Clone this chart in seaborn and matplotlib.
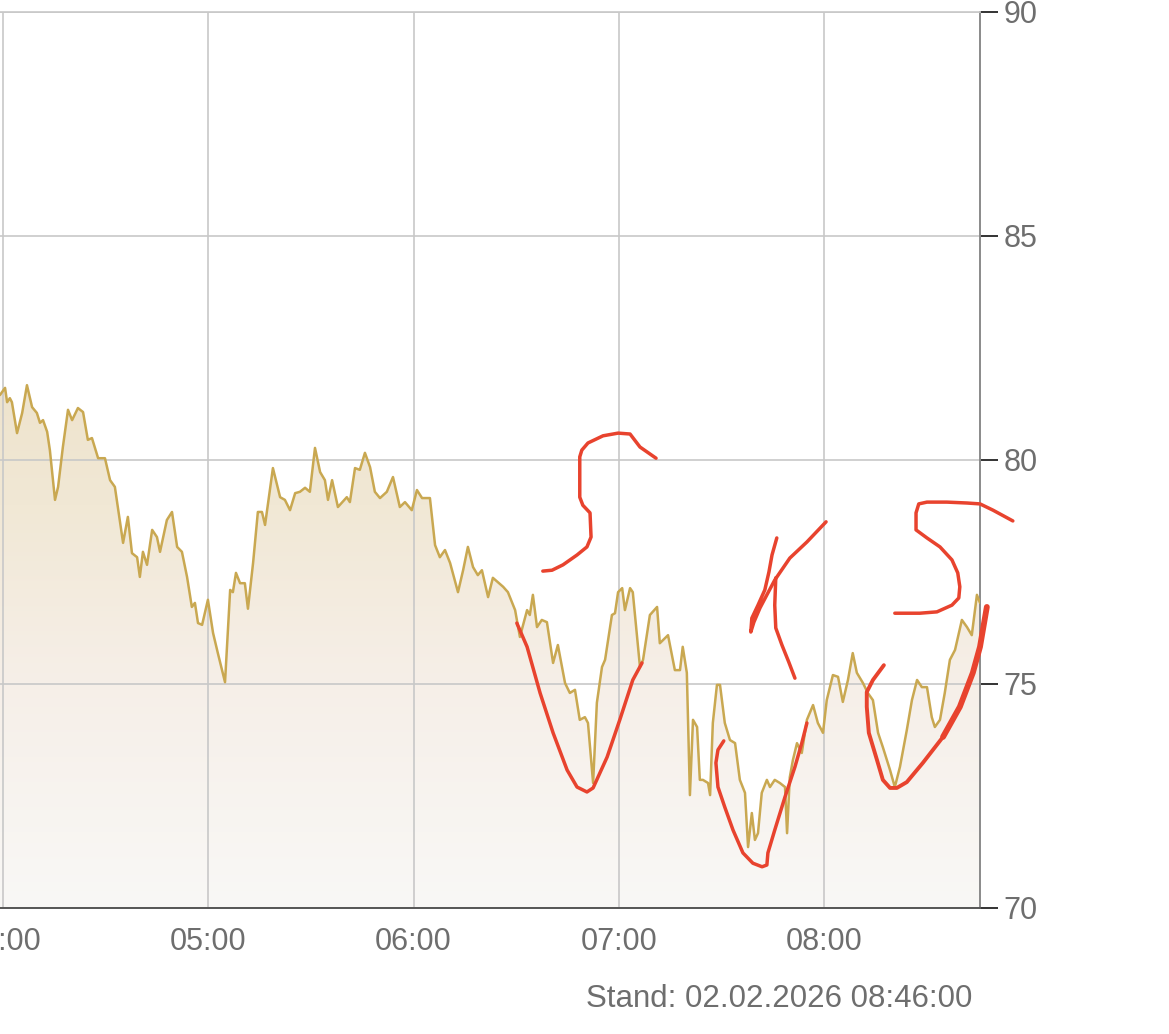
import numpy as np
import pandas as pd
import matplotlib
matplotlib.use("Agg")
import matplotlib.pyplot as plt
import seaborn as sns
from matplotlib.colors import LinearSegmentedColormap

# ---------------- data ----------------
# minutes after 04:00 and price
minutes = [
    -0.9, 0.6, 1.2, 2.0, 2.6, 4.1, 5.6, 7.0, 8.5, 9.9, 10.8, 11.7, 12.9, 13.7,
    15.2, 16.1, 17.5, 19.0, 20.2, 21.9, 23.4, 24.8, 26.0, 27.8, 29.8, 31.3,
    32.7, 35.1, 36.5, 37.7, 39.2, 40.0, 40.9, 42.1, 43.6, 45.0, 45.9, 47.9,
    49.4, 50.9, 52.3, 53.8, 55.2, 56.1, 57.0, 58.2, 59.9, 61.4, 62.8, 64.9,
    66.4, 67.2, 68.1, 69.3, 70.7, 71.6,
    73.1, 74.5, 75.7, 76.6, 78.9, 81.0, 82.4, 83.9, 85.4, 86.8, 88.3, 89.7,
    91.2, 92.7, 94.1, 95.0, 96.2, 97.9, 100.5, 101.4, 102.9, 104.3, 105.8,
    107.3, 108.7, 110.2, 112.2, 114.0, 116.0, 117.5, 119.5, 121.0, 122.5,
    124.8, 126.3, 127.7, 129.2, 130.7, 133.0, 134.5, 135.9, 137.4, 138.8,
    140.0, 141.8,
    143.2, 146.2, 147.6, 149.7, 151.1, 153.2, 154.0, 154.9, 156.1, 157.5,
    159.0, 160.8, 162.2, 164.3, 165.7, 167.2, 168.6, 170.1, 171.0, 172.5,
    173.6, 175.1, 176.0, 178.0, 178.9, 179.8, 181.0, 181.8, 183.3, 184.1,
    186.2, 187.1, 189.1, 191.2, 192.0, 194.4,
    196.4, 197.9, 198.7, 199.9, 200.8, 201.7, 202.9, 203.7, 204.6, 206.1,
    206.7, 207.5, 208.7, 209.6, 211.0, 212.5, 214.0, 215.4, 216.9, 217.8,
    218.9, 219.8, 220.7, 221.8, 223.3, 224.2, 225.6, 227.1, 228.6, 229.2,
    230.0, 230.9, 232.1, 233.5, 235.0, 236.8, 238.2, 239.7, 240.8, 242.6,
    244.1, 245.5, 247.0, 248.4, 249.6, 251.4, 252.8, 254.3, 255.8, 257.2,
    259.3, 260.7, 262.2, 264.2, 265.7, 267.2, 268.6, 270.1, 271.5, 272.4,
    273.9, 275.3, 276.8, 278.3, 280.3, 281.8, 283.2, 284.7, 285.6,
]
price = [
    81.45, 81.61, 81.29, 81.38, 81.29, 80.60, 81.05, 81.67, 81.18, 81.05, 80.83, 80.89, 80.63, 80.22,
    79.11, 79.40, 80.29, 81.12, 80.89, 81.16, 81.07, 80.45, 80.49, 80.04, 80.04, 79.55,
    79.40, 78.15, 78.73, 77.92, 77.83, 77.39, 77.95, 77.66, 78.44, 78.28, 77.95, 78.66,
    78.84, 78.06, 77.95, 77.39, 76.72, 76.81, 76.36, 76.32, 76.88, 76.14, 75.69, 75.04,
    77.10, 77.05, 77.48, 77.25, 77.25, 76.68,
    77.70, 78.84, 78.84, 78.55, 79.82, 79.17, 79.11, 78.88, 79.26, 79.29, 79.38, 79.29,
    80.27, 79.73, 79.55, 79.11, 79.55, 78.95, 79.17, 79.06, 79.82, 79.78, 80.16,
    79.84, 79.29, 79.15, 79.29, 79.62, 78.95, 79.06, 78.88, 79.33, 79.15,
    79.15, 78.10, 77.83, 77.99, 77.70, 77.05, 77.54, 78.06, 77.61, 77.43,
    77.54, 76.94,
    77.37, 77.17, 77.05, 76.65, 76.05, 76.65, 76.54, 76.99, 76.27, 76.43,
    76.38, 75.47, 75.87, 75.02, 74.80, 74.87, 74.20, 74.26, 74.13, 72.79,
    74.58, 75.38, 75.54, 76.54, 76.58, 77.05, 77.14, 76.65, 77.14, 77.05,
    75.38, 75.54, 76.54, 76.72, 75.91, 76.09,
    75.31, 75.31, 75.83, 75.25, 72.52, 74.20, 74.04, 72.86, 72.86, 72.79,
    72.52, 74.13, 74.98, 74.98, 74.13, 73.75, 73.68, 72.86, 72.57, 71.36,
    72.12, 71.52, 71.67, 72.57, 72.86, 72.70, 72.86, 72.79, 72.70, 71.67,
    72.92, 73.30, 73.68, 73.46, 74.20, 74.53, 74.13, 73.91, 74.64, 75.20,
    75.16, 74.60, 75.09, 75.69, 75.25, 75.02, 74.80, 74.64, 73.91, 73.59,
    73.08, 72.70, 73.15, 73.97, 74.64, 75.09, 74.93, 74.93, 74.26, 74.04,
    74.20, 74.80, 75.54, 75.76, 76.43, 76.27, 76.09, 76.99, 76.81,
]

hour_ticks = [0, 60, 120, 180, 240]
hour_labels = ["04:00", "05:00", "06:00", "07:00", "08:00"]
y_ticks = [70, 75, 80, 85, 90]
stamp_text = "Stand: 02.02.2026 08:46:00"

# hand-drawn red annotation strokes (minutes after 04:00, price level)
stroke_a_min = [190.9, 186.2, 183.3, 179.8, 175.4, 171.0, 169.2, 168.6, 168.6, 169.5, 171.6, 171.9, 170.7, 167.8, 163.7, 160.5, 157.8]
stroke_a_val = [80.04, 80.29, 80.58, 80.60, 80.54, 80.38, 80.22, 80.07, 79.17, 78.99, 78.82, 78.28, 78.06, 77.88, 77.66, 77.54, 77.52]
stroke_b_min = [150.2, 153.2, 157.0, 160.8, 164.9, 167.8, 170.7, 172.5, 176.6, 180.3, 184.1, 186.8]
stroke_b_val = [76.36, 75.83, 74.80, 73.91, 73.08, 72.70, 72.59, 72.68, 73.37, 74.20, 75.09, 75.47]
stroke_c_min = [226.2, 224.8, 223.9, 222.7, 220.7, 218.9, 218.6, 219.5, 221.3, 223.3, 225.6, 230.0, 235.0, 240.6]
stroke_c_val = [78.26, 77.88, 77.50, 77.10, 76.76, 76.47, 76.16, 76.38, 76.70, 76.99, 77.32, 77.81, 78.17, 78.62]
stroke_d_min = [225.9, 225.6, 225.9, 227.7, 229.7, 231.5]
stroke_d_val = [77.37, 76.76, 76.25, 75.87, 75.49, 75.13]
stroke_e_min = [210.7, 209.0, 208.4, 209.0, 211.0, 213.4, 216.3, 219.2, 221.9, 223.3, 223.6, 225.6, 228.6, 231.5, 233.5, 235.0]
stroke_e_val = [73.73, 73.53, 73.24, 72.70, 72.25, 71.74, 71.23, 71.00, 70.92, 70.96, 71.23, 71.74, 72.48, 73.15, 73.68, 74.13]
stroke_f_min = [257.5, 254.3, 252.5, 252.5, 253.1, 255.5, 257.2, 259.3, 261.3, 264.2, 268.9, 274.8, 279.7, 283.5, 285.6, 287.6]
stroke_f_val = [75.42, 75.09, 74.82, 74.49, 73.91, 73.30, 72.86, 72.68, 72.68, 72.81, 73.24, 73.82, 74.49, 75.25, 75.83, 76.72]
stroke_g_min = [295.2, 289.4, 285.6, 281.8, 275.9, 270.1, 267.7, 266.9, 266.9, 270.1, 273.9, 277.4, 279.1, 279.7, 279.4, 277.4, 273.0, 268.0, 260.7]
stroke_g_val = [78.64, 78.88, 79.02, 79.04, 79.06, 79.06, 79.02, 78.82, 78.44, 78.26, 78.06, 77.77, 77.48, 77.17, 76.92, 76.76, 76.61, 76.58, 76.58]

# ---------------- style ----------------
sns.set_style("white")
plt.rcParams["font.family"] = ["Liberation Sans", "DejaVu Sans"]

LINE = "#c9a851"
GRID = "#c8c8c8"
RED = "#e8432e"
TXT = "#6e6e6e"

W, H = 1169, 1034
fig = plt.figure(figsize=(W / 100, H / 100), dpi=100)
fig.patch.set_facecolor("white")
ax = fig.add_axes([0, (H - 908) / H, 980 / W, 896 / H])
ax.set_facecolor("white")

df = pd.DataFrame({"t": minutes, "p": price})

# gradient area
poly = ax.fill_between(df["t"], df["p"], 70, color="none", lw=0)
cmap = LinearSegmentedColormap.from_list(
    "area", [(0.0, "#f9f8f6"), (0.42, "#f6efe8"), (0.75, "#f1e8d5"), (1.0, "#eee3cc")]
)
grad = np.linspace(0, 1, 256).reshape(-1, 1)
im = ax.imshow(grad, extent=[df["t"].min(), df["t"].max(), 70, 82], origin="lower",
               aspect="auto", cmap=cmap, zorder=0.2, interpolation="bicubic")
im.set_clip_path(poly.get_paths()[0], transform=ax.transData)

sns.lineplot(data=df, x="t", y="p", ax=ax, color=LINE, lw=1.8, zorder=4, sort=False)

# annotations
strokes = [
    (stroke_a_min, stroke_a_val, 2.5),
    (stroke_b_min, stroke_b_val, 2.5),
    (stroke_c_min, stroke_c_val, 2.5),
    (stroke_d_min, stroke_d_val, 2.5),
    (stroke_e_min, stroke_e_val, 2.5),
    (stroke_f_min, stroke_f_val, 2.8),
    (stroke_g_min, stroke_g_val, 2.5),
]
for xs, ys, lw in strokes:
    ax.plot(xs, ys, color=RED, lw=lw, solid_capstyle="round", solid_joinstyle="round",
            clip_on=False, zorder=6)
ax.plot(stroke_f_min[-5:], stroke_f_val[-5:], color=RED, lw=4.2, solid_capstyle="round",
        solid_joinstyle="round", clip_on=False, zorder=6)

# axes
ax.set_xlim(-0.88, 285.6)
ax.set_ylim(70, 90)
ax.set_xticks(hour_ticks)
ax.set_xticklabels(hour_labels)
ax.set_yticks(y_ticks)
ax.set_yticklabels([str(v) for v in y_ticks])
ax.set_xlabel("")
ax.set_ylabel("")
ax.yaxis.tick_right()
ax.set_axisbelow(True)
ax.grid(True, color=GRID, lw=1.2)

ax.tick_params(axis="y", which="both", direction="out", length=13, width=1.4,
               color="#333333", pad=4, labelsize=22, labelcolor=TXT, left=False, right=True)
ax.tick_params(axis="x", which="both", direction="out", length=10, width=1.4,
               color="#333333", pad=4, labelsize=22, labelcolor=TXT)

ax.spines["left"].set_visible(False)
ax.spines["top"].set_visible(True)
ax.spines["top"].set_color(GRID)
ax.spines["top"].set_linewidth(1.2)
ax.spines["right"].set_color("#8a8a8a")
ax.spines["right"].set_linewidth(1.4)
ax.spines["bottom"].set_color("#555555")
ax.spines["bottom"].set_linewidth(1.4)

fig.text(972 / W, (H - 1007) / H, stamp_text, ha="right", va="baseline",
         fontsize=22.5, color=TXT)

fig.savefig("out.png", dpi=100, facecolor="white")
